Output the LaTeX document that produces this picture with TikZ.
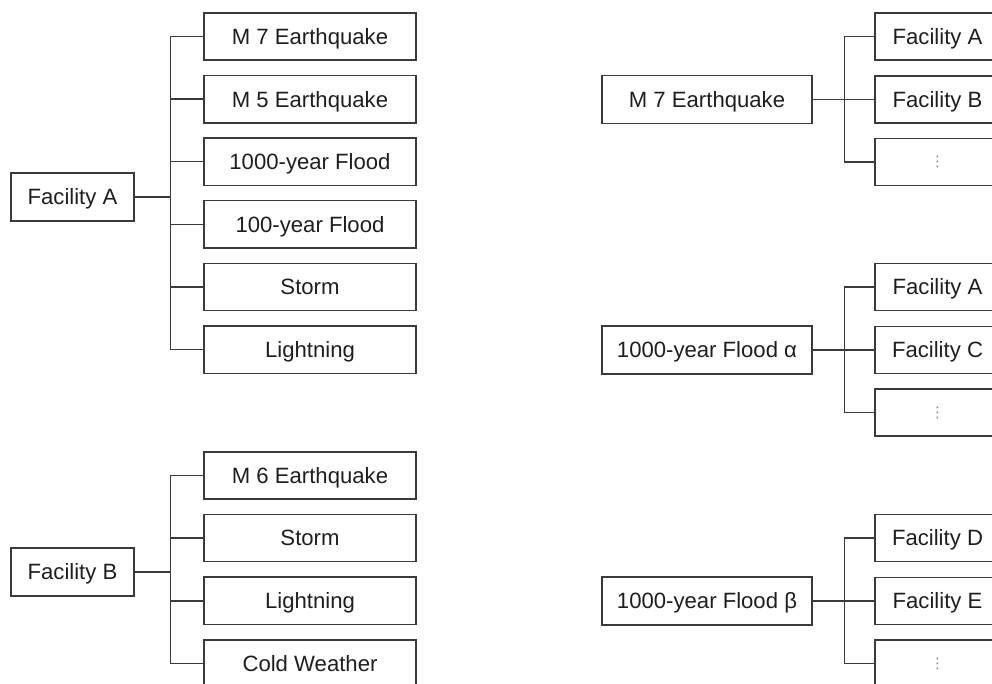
\documentclass[tikz,border=0pt]{standalone}
\usepackage{fontspec}
\setmainfont{Liberation Sans}
\newfontfamily\symfont{DejaVu Sans}
\definecolor{linegray}{HTML}{3A3A3A}
\definecolor{txt}{HTML}{1E1E1E}
\definecolor{dotgray}{HTML}{8A8A8A}
\begin{document}
\begin{tikzpicture}[x=0.75pt,y=-0.75pt,
  box/.style={draw=linegray,line width=1.05pt,rectangle,inner sep=0pt,
    text=txt,font=\fontsize{16.6}{19}\selectfont,
    text height=11.9pt,text depth=0pt},
  lchild/.style={box,minimum width=159pt,minimum height=35.5pt},
  lparent/.style={box,minimum width=92pt,minimum height=36pt},
  rparent/.style={box,minimum width=157.5pt,minimum height=36pt},
  rchild/.style={box,minimum width=94pt,minimum height=35.5pt},
  conn/.style={draw=linegray,line width=1.05pt},
  moredots/.style={text=dotgray,font=\symfont\fontsize{11}{12}\selectfont,inner sep=0pt}]
\useasboundingbox (0,0) rectangle (992,684);
\clip (0,0) rectangle (992,684);

% ---------- Facility A group ----------
\node[lparent] (pA) at (72.5,197) {Facility A};
\node[lchild] (a1) at (310,36.5) {M 7 Earthquake};
\node[lchild] (a2) at (310,99.2) {M 5 Earthquake};
\node[lchild] (a3) at (310,161.8) {1000-year Flood};
\node[lchild] (a4) at (310,224.4) {100-year Flood};
\node[lchild] (a5) at (310,287) {Storm};
\node[lchild] (a6) at (310,349.6) {Lightning};
\draw[conn] (pA.east) -- ++(36,0) coordinate (tA);
\foreach \c in {a1,a2,a3,a4,a5,a6} \draw[conn] (tA) |- (\c.west);

% ---------- Facility B group ----------
\node[lparent] (pB) at (72.5,572) {Facility B};
\node[lchild] (b1) at (310,475.5) {M 6 Earthquake};
\node[lchild] (b2) at (310,538) {Storm};
\node[lchild] (b3) at (310,600.8) {Lightning};
\node[lchild] (b4) at (310,663.5) {Cold Weather};
\draw[conn] (pB.east) -- ++(36,0) coordinate (tB);
\foreach \c in {b1,b2,b3,b4} \draw[conn] (tB) |- (\c.west);

% ---------- M 7 Earthquake group ----------
\node[rparent] (pE) at (707,99.5) {M 7 Earthquake};
\node[rchild] (e1) at (937.5,36.5) {Facility A};
\node[rchild] (e2) at (937.5,99.5) {Facility B};
\node[rchild] (e3) at (937.5,162) {};
\node[moredots] (e3d) at (e3.center) {⋮};
\draw[conn] (pE.east) -- (e2.west);
\path (pE.east) -- ++(32,0) coordinate (tE);
\foreach \c in {e1,e3} \draw[conn] (tE) |- (\c.west);

% ---------- 1000-year Flood alpha group ----------
\node[rparent] (pF) at (707,350) {1000-year Flood α};
\node[rchild] (f1) at (937.5,287) {Facility A};
\node[rchild] (f2) at (937.5,350) {Facility C};
\node[rchild] (f3) at (937.5,412.5) {};
\node[moredots] (f3d) at (f3.center) {⋮};
\draw[conn] (pF.east) -- (f2.west);
\path (pF.east) -- ++(32,0) coordinate (tF);
\foreach \c in {f1,f3} \draw[conn] (tF) |- (\c.west);

% ---------- 1000-year Flood beta group ----------
\node[rparent] (pG) at (707,601) {1000-year Flood β};
\node[rchild] (g1) at (937.5,538) {Facility D};
\node[rchild] (g2) at (937.5,601) {Facility E};
\node[rchild] (g3) at (937.5,663.5) {};
\node[moredots] (g3d) at (g3.center) {⋮};
\draw[conn] (pG.east) -- (g2.west);
\path (pG.east) -- ++(32,0) coordinate (tG);
\foreach \c in {g1,g3} \draw[conn] (tG) |- (\c.west);
\end{tikzpicture}
\end{document}
